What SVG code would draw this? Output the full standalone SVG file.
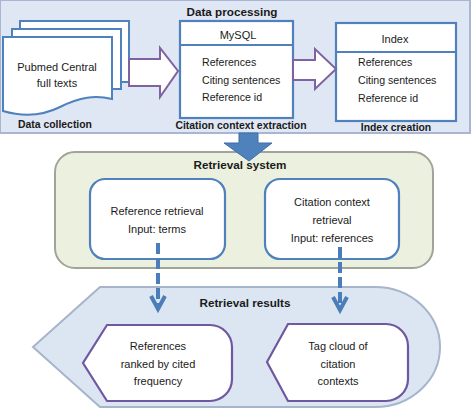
<svg xmlns="http://www.w3.org/2000/svg" width="474" height="409" viewBox="0 0 474 409">
<defs>
<style>
text{font-family:"Liberation Sans",Arial,sans-serif;fill:#1a1a1a;text-anchor:middle}
.t{font-size:11px}
.l{font-size:10.6px;text-anchor:start}
.b{font-weight:bold;font-size:10.4px}
.h{font-weight:bold;font-size:11.7px}
.page{fill:#fff;stroke:#4f81bd;stroke-width:2}
.tbl{fill:#fff;stroke:#4f81bd;stroke-width:2.2}
.hol{fill:#fff;stroke:#7f63a1;stroke-width:2;stroke-linejoin:miter}
.inner{fill:#fff;stroke:#4f81bd;stroke-width:2.2}
.res{fill:#fff;stroke:#6f58a0;stroke-width:2.2}
.dash{stroke:#4a7ebb;stroke-width:4;fill:none}
</style>
</defs>
<rect id="panel-processing" x="0" y="0" width="470" height="133" fill="#dfe7f4" stroke="#aab5d4" stroke-width="2"/>
<text class="h" x="232" y="16">Data processing</text>

<g id="data-collection">
<path class="page" d="M20,21 H129 V82 H112 V37 H20 Z"/>
<path class="page" d="M12,29 H121 V89 H112 V37 H12 Z"/>
<path class="page" d="M3,37 H112 V99 C95,95 80,97 60,107 C40,117 20,116 3,111 Z"/>
<text class="t" x="57" y="71">Pubmed Central</text>
<text class="t" x="57" y="87">full texts</text>
<text class="b" x="55" y="128">Data collection</text>
</g>

<g id="mysql">
<rect class="tbl" x="180" y="21" width="113" height="97"/>
<line x1="180" y1="45" x2="293" y2="45" stroke="#4f81bd" stroke-width="2"/>
<text class="t" x="238" y="39">MySQL</text>
<text class="l" x="202" y="66">References</text>
<text class="l" x="202" y="84">Citing sentences</text>
<text class="l" x="202" y="101">Reference id</text>
<text class="b" x="241" y="129">Citation context extraction</text>
</g>

<g id="index">
<rect class="tbl" x="336" y="23" width="120" height="98"/>
<line x1="336" y1="52" x2="456" y2="52" stroke="#4f81bd" stroke-width="2"/>
<text class="t" x="395" y="43">Index</text>
<text class="l" x="358" y="66">References</text>
<text class="l" x="358" y="84">Citing sentences</text>
<text class="l" x="358" y="102">Reference id</text>
<text class="b" x="396" y="131">Index creation</text>
</g>

<g id="retrieval-system">
<rect x="55" y="152" width="378" height="116" rx="20" ry="20" fill="#ebf1de" stroke="#a0a49a" stroke-width="2"/>
<text class="h" x="240" y="169">Retrieval system</text>
</g>
<g id="reference-retrieval">
<rect class="inner" x="90" y="179" width="135" height="80" rx="15" ry="15"/>
<text class="t" x="157" y="215">Reference retrieval</text>
<text class="t" x="157" y="233">Input: terms</text>
</g>
<g id="citation-context-retrieval">
<rect class="inner" x="265" y="179" width="134" height="80" rx="15" ry="15"/>
<text class="t" x="332" y="206">Citation context</text>
<text class="t" x="332" y="224">retrieval</text>
<text class="t" x="332" y="242">Input: references</text>
</g>

<g id="retrieval-results">
<path d="M100,287 H375 A65,60 0 0 1 375,407 H100 L33,347 Z" fill="#dce6f2" stroke="#a6b5cb" stroke-width="2"/>
<text class="h" x="245" y="307">Retrieval results</text>
</g>
<g id="ranked-references">
<path class="res" d="M107,325 H210 A22,22 0 0 1 232,347 V379 A22,22 0 0 1 210,401 H107 L83,363 Z"/>
<text class="t" x="158" y="350">References</text>
<text class="t" x="158" y="368">ranked by cited</text>
<text class="t" x="158" y="385">frequency</text>
</g>
<g id="tag-cloud">
<path class="res" d="M288,324 H386 A22,22 0 0 1 408,346 V379 A22,22 0 0 1 386,401 H288 L267,362 Z"/>
<text class="t" x="338" y="350">Tag cloud of</text>
<text class="t" x="338" y="368">citation</text>
<text class="t" x="338" y="385">contexts</text>
</g>

<g id="connectors">
<path class="hol" d="M129,59 H160 V48 L178,71 L160,97 V86 H129 Z"/>
<path class="hol" d="M293,60 H315 V49 L336,69 L315,89 V80 H293 Z"/>
<path d="M239,133 H258 V143 H272 L249,161 L224,143 H239 Z" fill="#4f81bd" stroke="#3f6fa8" stroke-width="1"/>
<line class="dash" x1="158" y1="243" x2="158" y2="306" stroke-dasharray="11,4"/>
<polyline class="dash" points="151,296 158,309 165,296"/>
<line class="dash" x1="340" y1="247" x2="340" y2="306" stroke-dasharray="11,4"/>
<polyline class="dash" points="333,297 340,310 347,297"/>
</g>
</svg>
